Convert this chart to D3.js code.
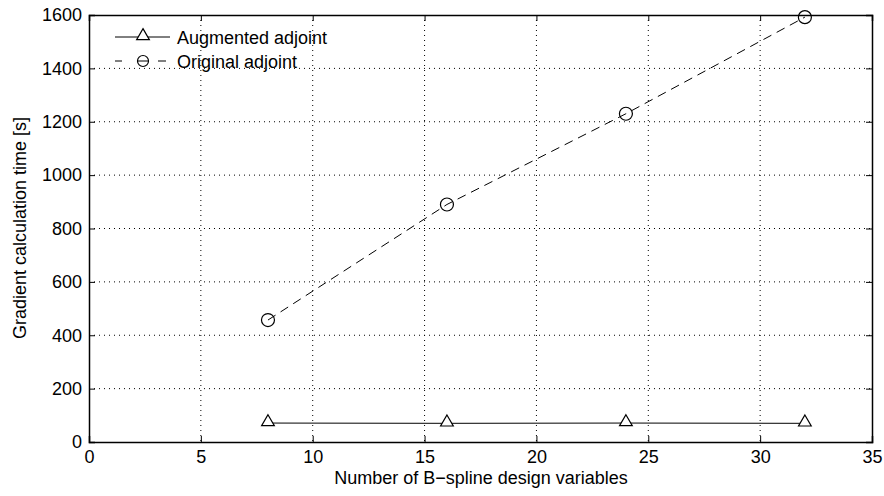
<!DOCTYPE html>
<head>
  <meta charset="utf-8">
  <script src="https://d3js.org/d3.v7.min.js"></script>
  <style>
    body { margin:0; background:#fff; }
    text { font-family: "Liberation Sans", Arial, sans-serif; font-size: 18px; fill: #000; }
    .grid line { stroke: #000; stroke-width: 1; stroke-dasharray: 1,4; }
  </style>
</head>
<body>
  <script>
    // data
    var designVars = [8, 16, 24, 32];
    var augmented = [71, 70, 71, 70];
    var original = [457, 890, 1230, 1592];
    var xTicks = [0, 5, 10, 15, 20, 25, 30, 35];
    var yTicks = [0, 200, 400, 600, 800, 1000, 1200, 1400, 1600];

    var margin = {top: 15, right: 12, bottom: 54, left: 89},
        width = 884 - margin.left - margin.right,
        height = 496 - margin.top - margin.bottom;

    var svg = d3.select("body").append("svg")
        .attr("width", 884)
        .attr("height", 496);

    var g = svg.append("g")
        .attr("transform", "translate(" + margin.left + "," + margin.top + ")");

    var x = d3.scaleLinear().domain([0, 35]).range([0, width]);
    var y = d3.scaleLinear().domain([0, 1600]).range([height, 0]);

    // dotted grid
    var grid = g.append("g").attr("class", "grid");
    grid.selectAll(".gx").data(xTicks.slice(1, -1)).enter().append("line")
        .attr("x1", function(d) { return x(d); })
        .attr("x2", function(d) { return x(d); })
        .attr("y1", 0).attr("y2", height);
    grid.selectAll(".gy").data(yTicks.slice(1, -1)).enter().append("line")
        .attr("y1", function(d) { return y(d); })
        .attr("y2", function(d) { return y(d); })
        .attr("x1", 0).attr("x2", width);

    // axes with inward ticks on all sides
    var axBottom = g.append("g")
        .attr("transform", "translate(0," + height + ")")
        .call(d3.axisBottom(x).tickValues(xTicks).tickSize(-6).tickPadding(8).tickFormat(d3.format("d")));
    var axLeft = g.append("g")
        .call(d3.axisLeft(y).tickValues(yTicks).tickSize(-6).tickPadding(7).tickFormat(d3.format("d")));
    var axTop = g.append("g")
        .call(d3.axisTop(x).tickValues(xTicks).tickSize(-6).tickFormat(""));
    var axRight = g.append("g")
        .attr("transform", "translate(" + width + ",0)")
        .call(d3.axisRight(y).tickValues(yTicks).tickSize(-6).tickFormat(""));

    [axBottom, axLeft, axTop, axRight].forEach(function(a) {
      a.selectAll("path").attr("stroke", "#000").attr("stroke-width", 1.5);
      a.selectAll("line").attr("stroke", "#000");
      a.selectAll("text").style("font-size", "18px").attr("font-family", null);
    });

    // lines
    var line = d3.line()
        .x(function(d) { return x(d[0]); })
        .y(function(d) { return y(d[1]); });

    var augData = designVars.map(function(v, i) { return [v, augmented[i]]; });
    var origData = designVars.map(function(v, i) { return [v, original[i]]; });

    g.append("path").datum(augData)
        .attr("fill", "none").attr("stroke", "#000").attr("stroke-width", 1)
        .attr("d", line);
    g.append("path").datum(origData)
        .attr("fill", "none").attr("stroke", "#000").attr("stroke-width", 1)
        .attr("stroke-dasharray", "9,6")
        .attr("d", line);

    var tri = d3.symbol().type(d3.symbolTriangle).size(70);

    g.selectAll(".tri").data(augData).enter().append("path")
        .attr("d", tri)
        .attr("transform", function(d) { return "translate(" + x(d[0]) + "," + (y(d[1]) - 1) + ")"; })
        .attr("fill", "#fff").attr("stroke", "#000").attr("stroke-width", 1.2);

    g.selectAll(".circ").data(origData).enter().append("circle")
        .attr("cx", function(d) { return x(d[0]); })
        .attr("cy", function(d) { return y(d[1]); })
        .attr("r", 6.5)
        .attr("fill", "none").attr("stroke", "#000").attr("stroke-width", 1.2);

    // legend
    var legend = g.append("g");
    var items = [
      {label: "Augmented adjoint", dash: null},
      {label: "Original adjoint", dash: "9,6"}
    ];
    items.forEach(function(it, i) {
      var ly = 22 + i * 24;
      var row = legend.append("g");
      if (it.dash) {
        row.append("line").attr("x1", 26).attr("x2", 33).attr("y1", ly).attr("y2", ly).attr("stroke", "#000");
        row.append("line").attr("x1", 69).attr("x2", 77).attr("y1", ly).attr("y2", ly).attr("stroke", "#000");
        row.append("circle").attr("cx", 54).attr("cy", ly).attr("r", 5.5)
          .attr("fill", "none").attr("stroke", "#000").attr("stroke-width", 1.2);
        row.append("line").attr("x1", 49).attr("x2", 59).attr("y1", ly).attr("y2", ly).attr("stroke", "#000");
      } else {
        row.append("line").attr("x1", 26).attr("x2", 81).attr("y1", ly).attr("y2", ly).attr("stroke", "#000");
        row.append("path").attr("d", tri)
          .attr("transform", "translate(54," + (ly - 1) + ")")
          .attr("fill", "#fff").attr("stroke", "#000").attr("stroke-width", 1.2);
      }
      row.append("text").attr("x", 88).attr("y", ly + 7).text(it.label);
    });

    // axis labels
    svg.append("text")
        .attr("x", 481)
        .attr("y", 484)
        .attr("text-anchor", "middle")
        .text("Number of B\u2212spline design variables");

    svg.append("text")
        .attr("transform", "translate(26," + (margin.top + 213) + ") rotate(-90)")
        .attr("text-anchor", "middle")
        .text("Gradient calculation time [s]");
  </script>
</body>
